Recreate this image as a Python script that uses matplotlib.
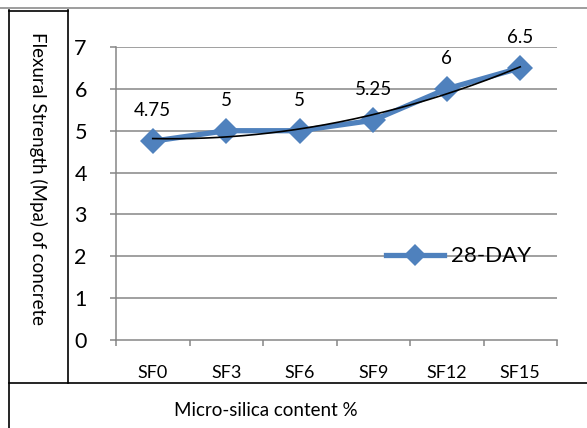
import numpy as np
import matplotlib
matplotlib.use("Agg")
import matplotlib.pyplot as plt
from matplotlib.lines import Line2D

categories = ["SF0", "SF3", "SF6", "SF9", "SF12", "SF15"]
values = [4.75, 5, 5, 5.25, 6, 6.5]
value_labels = ["4.75", "5", "5", "5.25", "6", "6.5"]
series_name = "28-DAY"
y_ticks = [0, 1, 2, 3, 4, 5, 6, 7]

plt.rcParams['font.family'] = ['Lato', 'DejaVu Sans']

W, H = 587, 428
fig = plt.figure(figsize=(W / 100, H / 100), dpi=100)

def fx(px):
    return px / W

def fy(py):
    return 1 - py / H

ax = fig.add_axes([fx(116), fy(340), fx(557) - fx(116), fy(47) - fy(340)])
x = np.arange(1, len(categories) + 1)
ax.set_xlim(0.5, len(categories) + 0.5)
ax.set_ylim(0, 7)

grid_c = "#868686"
for yv in y_ticks[1:]:
    ax.axhline(yv, color=grid_c, lw=1.1, zorder=1)

ax.plot(x, values, color="#4F81BD", lw=3.8, marker="D", markersize=13,
        markeredgewidth=0, zorder=3, label=series_name)

# polynomial trendline (order 2) fit to the series
coef = np.polyfit(x, values, 2)
xs = np.linspace(1, len(categories), 200)
ax.plot(xs, np.polyval(coef, xs), color="black", lw=1.2, zorder=4)

for xi, v, lab in zip(x, values, value_labels):
    ax.annotate(lab, (xi, v), xytext=(0, 22), textcoords="offset points",
                ha="center", va="center", fontsize=13.5, color="black")

for s in ["top", "right"]:
    ax.spines[s].set_visible(False)
ax.spines["left"].set_color(grid_c)
ax.spines["bottom"].set_color(grid_c)
ax.spines["left"].set_linewidth(1.1)
ax.spines["bottom"].set_linewidth(1.1)

ax.set_yticks(y_ticks)
ax.set_yticklabels([str(t) for t in y_ticks], fontsize=15.5)
ax.set_xticks(np.arange(0.5, len(categories) + 1.5, 1), minor=False)
ax.set_xticklabels([])
ax.set_xticks(x, minor=True)
ax.set_xticklabels(categories, minor=True, fontsize=13)
ax.tick_params(axis="x", which="major", length=4, color=grid_c, width=1.1, direction="out")
ax.tick_params(axis="x", which="minor", length=0, pad=18)
ax.tick_params(axis="y", length=4, color=grid_c, width=1.1, pad=17)

handle = Line2D([], [], color="#4F81BD", lw=3.8, marker="D", markersize=11, markeredgewidth=0)
ax.legend([handle], [series_name], loc="center left",
          bbox_to_anchor=((386 - 116) / 441 - 0.02, 0.2857),
          frameon=False, fontsize=16, handlelength=2.6, handletextpad=0.3,
          borderaxespad=0)

# frame lines
fig.add_artist(Line2D([0, 1], [fy(8), fy(8)], color="#8c8c8c", lw=1.2, transform=fig.transFigure))
fig.add_artist(Line2D([fx(8.5), fx(8.5)], [fy(10), 0], color="black", lw=1.2, transform=fig.transFigure))
fig.add_artist(Line2D([fx(8.5), fx(68)], [fy(10.5), fy(10.5)], color="black", lw=1.2, transform=fig.transFigure))
fig.add_artist(Line2D([fx(68), fx(68)], [fy(10), fy(383)], color="black", lw=1.2, transform=fig.transFigure))
fig.add_artist(Line2D([fx(8.5), 1], [fy(383), fy(383)], color="black", lw=1.2, transform=fig.transFigure))

fig.text(fx(38), fy(178), "Flexural Strength (Mpa) of concrete", rotation=270,
         ha="center", va="center", fontsize=13.5, color="black")
fig.text(fx(266), fy(411), "Micro-silica content %", ha="center", va="center",
         fontsize=13.5, color="black")

fig.savefig("out.png", dpi=100)
